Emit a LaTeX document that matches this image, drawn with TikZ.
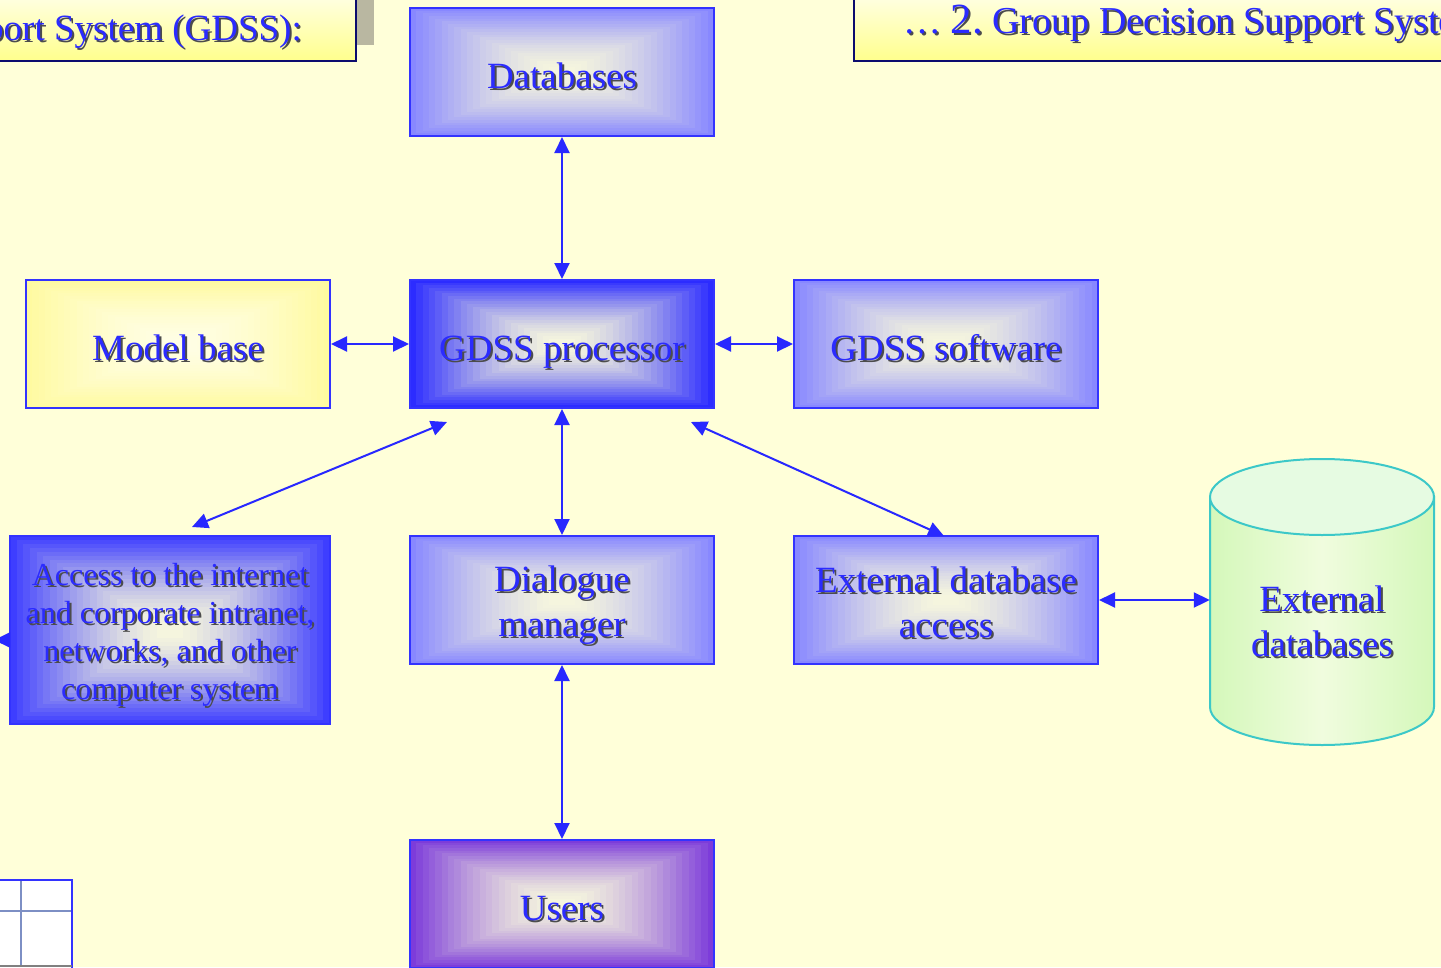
\documentclass[tikz,border=0pt]{standalone}
\usepackage{fontspec}
\setmainfont{Liberation Serif}
\usetikzlibrary{arrows.meta,calc}

\definecolor{bg}{RGB}{255,255,217}
\definecolor{txtblue}{RGB}{43,43,255}
\definecolor{edgeblue}{RGB}{51,51,255}
\definecolor{lnblue}{RGB}{40,40,255}
\definecolor{navy}{RGB}{12,12,110}
\definecolor{shadowgray}{RGB}{185,183,161}
\definecolor{cylline}{RGB}{60,200,200}
\definecolor{cylside}{RGB}{212,248,186}
\definecolor{cylmid}{RGB}{240,252,222}
\definecolor{cyltop}{RGB}{230,251,226}
\definecolor{gridline}{RGB}{125,143,196}
\definecolor{cream}{RGB}{245,245,222}
\definecolor{rimpale}{RGB}{136,136,255}
\definecolor{rimdeep}{RGB}{44,44,255}
\definecolor{rimacc}{RGB}{62,62,255}
\definecolor{rimpurple}{RGB}{125,60,218}
\definecolor{rimyellow}{RGB}{255,250,160}
\definecolor{ctryellow}{RGB}{255,254,228}

% text with a dark drop shadow
\newcommand{\shd}[1]{\leavevmode\rlap{\kern2pt\raisebox{-2pt}{\textcolor{black!70}{#1}}}#1}
% the same, lowered without changing the box it takes up
\newcommand{\shdl}[2][5pt]{\raisebox{-#1}[\height][\depth]{\shd{#2}}}

\tikzset{
  % stepped rectangular gradient: rim colour #1 fading to centre colour #2
  boxgrad/.style 2 args={path picture={
    \foreach \i in {0,...,23}{
      \pgfmathtruncatemacro\p{100*(1-\i/23)^1.5}
      \fill[#1!\p!#2]
        ($(path picture bounding box.south west)!\i/48!(path picture bounding box.north east)$)
        rectangle
        ($(path picture bounding box.north east)!\i/48!(path picture bounding box.south west)$);
    }}},
  box/.style={draw=edgeblue, line width=2pt, minimum width=304pt, minimum height=128pt,
    inner sep=0pt, text=txtblue, font=\fontsize{37}{45}\selectfont, align=center},
  oneline/.style={text height=32pt, text depth=0pt},
  pale/.style={box, boxgrad={rimpale}{cream}},
  deep/.style={box, boxgrad={rimdeep}{cream}},
  arr/.style={draw=lnblue, line width=2pt,
    {Triangle[length=16pt,width=15pt]}-{Triangle[length=16pt,width=15pt]}},
  onehead/.style={draw=lnblue, line width=2pt, -{Triangle[length=16pt,width=15pt]}},
  titletext/.style={text=txtblue, inner sep=0pt, font=\fontsize{37}{40}\selectfont},
}

\begin{document}
\begin{tikzpicture}[x=1pt,y=-1pt]
\useasboundingbox (0,0) rectangle (1441,967);
\fill[bg] (0,0) rectangle (1441,967);
\clip (0,0) rectangle (1441,967);

% title bars
\fill[shadowgray] (356,-10) rectangle (374,45);
\draw[navy, line width=2pt, top color=white!60!yellow!20, bottom color=yellow!45] (-10,-10) rectangle (356,61);
\node[titletext, anchor=base east] (titleL) at (302,40) {\shd{Support System (GDSS):}};
\draw[navy, line width=2pt, top color=white!60!yellow!20, bottom color=yellow!45] (854,-10) rectangle (1460,61);
\node[titletext, font=\fontsize{38}{40}\selectfont, anchor=base west] (titleR) at (903,33)
  {\shd{\ldots}\ {\fontsize{43}{46}\selectfont\shd{2.}}\ \shd{Group Decision Support System}};

% corner window icon
\fill[white] (-10,880) rectangle (72,977);
\draw[gridline, line width=2.5pt] (21,880) -- (21,967) (-10,911) -- (72,911);
\draw[edgeblue, line width=2pt] (-10,880) -- (72,880) -- (72,977);
\draw[gray, line width=2pt] (-10,966) -- (72,966);

% blocks
\node[pale, oneline] (db) at (562,72) {\shd{Databases}};
\node[box, oneline, boxgrad={rimyellow}{ctryellow}] (mb) at (178,344) {\shd{Model base}};
\node[deep, oneline] (proc) at (562,344) {\shd{GDSS processor}};
\node[pale, oneline] (soft) at (946,344) {\shd{GDSS software}};
\node[box, boxgrad={rimacc}{cream}, minimum width=320pt, minimum height=188pt,
  font=\fontsize{32}{38}\selectfont] (acc) at (170,630)
  {\shdl[6pt]{Access to the internet}\\\shdl[6pt]{and corporate intranet,}\\\shdl[6pt]{networks, and other}\\\shdl[6pt]{computer system}};
\node[pale] (dlg) at (562,600) {\shdl[6pt]{Dialogue}\\\shdl[6pt]{manager}};
\node[pale] (eda) at (946,600) {\shdl[3pt]{External database}\\\shdl[3pt]{access}};
\node[box, oneline, boxgrad={rimpurple}{cream}] (users) at (562,904) {\shd{Users}};

% external databases cylinder
\path[draw=cylline, line width=2pt, left color=cylside, right color=cylside, middle color=cylmid]
  (1210,497) -- (1210,707) arc[start angle=180, end angle=0, x radius=112, y radius=38]
  -- (1434,497) -- cycle;
\draw[cylline, line width=2pt, fill=cyltop] (1322,497) ellipse[x radius=112, y radius=38];
\node[inner sep=0pt, minimum width=224pt, minimum height=286pt, text=txtblue,
  font=\fontsize{37}{45}\selectfont, align=center] (extdb) at (1322,600)
  {\shdl[22pt]{External}\\\shdl[22pt]{databases}};

% connectors
\draw[arr] (db) -- (proc);
\draw[arr] (mb) -- (proc);
\draw[arr] (proc) -- (soft);
\draw[arr] (proc) -- (dlg);
\draw[arr] (dlg) -- (users);
\draw[arr] (eda.east) -- (eda.east -| extdb.west);
\coordinate (pl) at (447,422);
\coordinate (al) at (192,527);
\draw[arr] (pl) -- (al);
\coordinate (pr) at (691,422);
\coordinate (er) at (944,536);
\draw[arr] (pr) -- (er);
\coordinate (accout) at (-6,640);
\draw[onehead] (acc.west |- accout) -- (accout);
\end{tikzpicture}
\end{document}
